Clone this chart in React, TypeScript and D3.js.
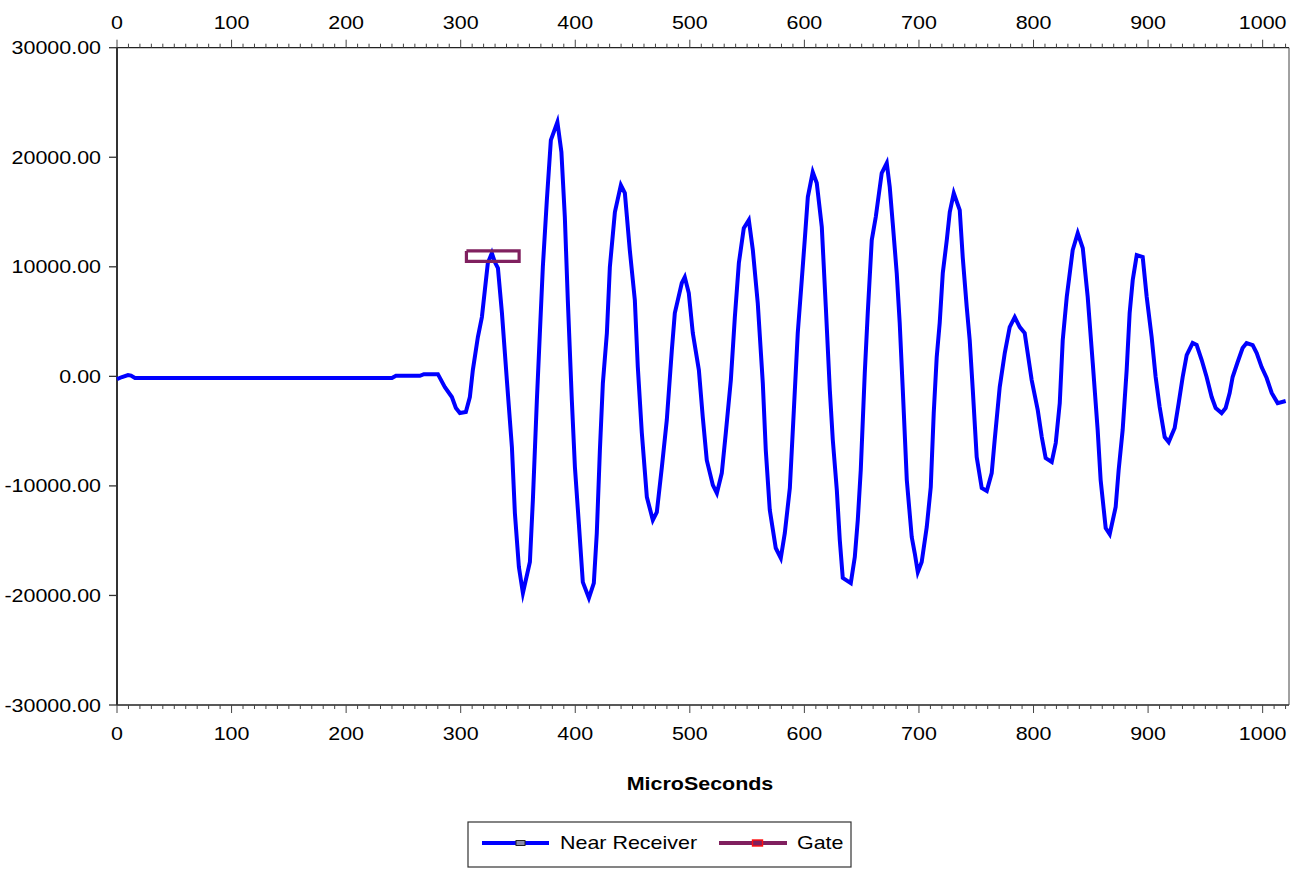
import * as d3 from "d3";

// time axis (microseconds) and the Near Receiver trace
const microSeconds = [
  0, 4.4, 9.6, 12.2, 15.7, 240.0, 243.5, 264.4, 267.9, 280.1,
  286.2, 292.3, 295.8, 299.3, 304.5, 308.0, 310.6, 315.0, 318.5, 321.1,
  323.7, 327.2, 329.8, 332.5, 336.0, 340.3, 344.7, 347.3, 350.8, 354.3,
  360.4, 363.0, 366.5, 369.1, 371.7, 375.2, 378.7, 384.4, 387.9, 390.9,
  393.5, 397.0, 399.7, 403.1, 406.6, 411.9, 416.2, 418.8, 421.5, 424.1,
  427.6, 430.2, 434.6, 439.8, 443.3, 447.6, 452.0, 454.6, 458.1, 462.5,
  467.7, 471.2, 475.6, 479.9, 484.3, 486.9, 493.0, 495.6, 499.1, 502.6,
  507.9, 511.3, 514.8, 520.1, 523.6, 527.9, 531.4, 535.8, 539.3, 542.8,
  547.1, 551.5, 555.0, 559.3, 563.7, 566.3, 569.8, 575.0, 579.4, 582.9,
  587.3, 590.8, 594.2, 597.7, 600.3, 603.0, 607.3, 610.8, 615.2, 618.7,
  622.2, 624.8, 628.3, 630.9, 633.5, 640.5, 644.0, 646.6, 649.2, 651.0,
  652.7, 655.3, 658.8, 662.3, 667.5, 671.9, 674.5, 677.1, 680.6, 683.2,
  685.9, 689.4, 693.7, 696.3, 699.0, 702.4, 706.8, 710.3, 712.9, 715.5,
  718.1, 720.8, 724.3, 726.9, 730.4, 735.6, 738.2, 741.7, 744.3, 747.0,
  750.4, 754.8, 759.2, 763.5, 766.1, 770.5, 774.9, 779.2, 783.6, 788.0,
  792.3, 794.9, 798.4, 803.7, 807.2, 810.6, 815.9, 819.4, 822.9, 825.5,
  829.0, 834.2, 838.6, 843.0, 847.3, 851.7, 856.0, 858.6, 863.0, 866.5,
  871.7, 874.3, 877.8, 881.3, 883.9, 886.6, 890.1, 895.3, 898.8, 903.1,
  906.6, 910.1, 914.5, 918.0, 923.2, 926.7, 930.2, 933.7, 938.9, 942.4,
  946.8, 951.1, 955.5, 959.0, 964.2, 967.7, 971.2, 973.8, 978.2, 982.5,
  986.0, 991.3, 994.8, 999.1, 1003.5, 1007.9, 1013.1, 1020.1,
];

const nearReceiver = [
  -250, -60, 120, 70, -150, -150, 50, 50, 200, 200,
  -980, -1890, -2890, -3350, -3260, -1890, 570, 3590, 5410, 7880,
  10340, 11250, 10430, 9880, 5780, -340, -6450, -12480, -17410, -19780,
  -16950, -11290, -2160, 3950, 9980, 16090, 21570, 23210, 20480, 14540,
  6960, -2160, -8280, -13390, -18780, -20240, -18870, -14310, -6730, -610,
  3950, 9980, 15000, 17460, 16730, 11530, 6960, 850, -5170, -11020,
  -13120, -12390, -8280, -3990, 2400, 5780, 8520, 9060, 7600, 3950,
  570, -3720, -7650, -9930, -10660, -8830, -5170, -340, 5410, 10340,
  13530, 14270, 11530, 6690, -610, -6730, -12210, -15670, -16590, -14310,
  -10200, -3080, 3950, 8790, 12440, 16370, 18650, 17650, 13630, 6330,
  -1250, -5810, -10370, -14940, -18400, -18870, -16500, -13120, -8560, -3990,
  300, 5780, 12440, 14540, 18560, 19470, 17280, 13990, 9430, 4870,
  -1250, -9470, -14670, -16130, -17870, -16950, -13760, -10110, -3350, 1760,
  4870, 9430, 12440, 15000, 16730, 15180, 10890, 6330, 3310, -1250,
  -7370, -10200, -10470, -8830, -5810, -980, 2130, 4500, 5410, 4500,
  3950, 2130, -340, -3080, -5540, -7460, -7820, -6090, -2440, 3310,
  7240, 11530, 13080, 11710, 7240, 1210, -4900, -9470, -13850, -14400,
  -11930, -8560, -4900, 570, 5780, 8790, 11070, 10890, 7240, 3590,
  -60, -2800, -5540, -6000, -4720, -2440, -60, 1940, 3040, 2860,
  1490, -60, -1890, -2890, -3350, -2890, -1520, -60, 1310, 2580,
  3040, 2860, 2130, 850, -150, -1520, -2440, -2250,
];

// gate window drawn as a closed box
const gateX = [305, 351, 351, 305, 305];
const gateY = [11450, 11450, 10500, 10500, 11450];

const xMajorTicks = [0, 100, 200, 300, 400, 500, 600, 700, 800, 900, 1000];
const xMinorTicks = d3.range(0, 1021, 10);
const yTicks = [-30000, -20000, -10000, 0, 10000, 20000, 30000];
const seriesNames = ["Near Receiver", "Gate"];

const FONT = "'Liberation Sans', Arial, sans-serif";
const SX = 1.16; // text in the source is drawn slightly stretched
const BLUE = "#0000ff";
const PURPLE = "#80205f";

// plain hyphen for negatives, like the source
const fmt = d3.formatLocale({
  decimal: ".",
  thousands: "",
  grouping: [3],
  currency: ["", ""],
  minus: "-",
}).format(".2f");

const Label = ({ x, y, anchor = "middle", bold = false, children }) => (
  <text
    transform={`translate(${x},${y}) scale(${SX},1)`}
    textAnchor={anchor}
    fontFamily={FONT}
    fontSize={18.5}
    fontWeight={bold ? "bold" : "normal"}
    fill="#000"
  >
    {children}
  </text>
);

export default function App() {
  const x = d3.scaleLinear().domain([0, 1023]).range([117, 1289]);
  const y = d3.scaleLinear().domain([-30000, 30000]).range([705, 47.7]);

  const line = d3
    .line<[number, number]>()
    .x((d) => x(d[0]))
    .y((d) => y(d[1]));

  const trace = microSeconds.map((t, i) => [t, nearReceiver[i]] as [number, number]);
  const gate = gateX.map((t, i) => [t, gateY[i]] as [number, number]);

  const [left, right] = x.range();
  const [bottom, top] = y.range();

  return (
    <svg
      width={1295}
      height={869}
      style={{ position: "absolute", left: 0, top: 0, background: "#fff" }}
    >
      <rect x={0} y={0} width={1295} height={869} fill="#fff" />

      {/* frame */}
      <line x1={left} x2={right} y1={top} y2={top} stroke="#222" strokeWidth={1.3} />
      <line x1={left} x2={right} y1={bottom} y2={bottom} stroke="#222" strokeWidth={1.3} />
      <line x1={right} x2={right} y1={top} y2={bottom} stroke="#444" strokeWidth={1} />
      <line x1={left} x2={left} y1={top} y2={bottom} stroke="#333" strokeWidth={2} />

      {/* top and bottom x axes */}
      {xMinorTicks.map((t) => {
        const major = t % 100 === 0;
        const len = major ? 8 : 4;
        return (
          <g key={"mt" + t}>
            <line x1={x(t)} x2={x(t)} y1={top} y2={top - len} stroke="#444" strokeWidth={1} />
            <line x1={x(t)} x2={x(t)} y1={bottom} y2={bottom + len} stroke="#444" strokeWidth={1} />
          </g>
        );
      })}
      {xMajorTicks.map((t) => (
        <g key={"xl" + t}>
          <Label x={x(t)} y={28.5}>{t}</Label>
          <Label x={x(t)} y={740}>{t}</Label>
        </g>
      ))}

      {/* left y axis */}
      {yTicks.map((v) => (
        <g key={"y" + v}>
          <line x1={left - 8} x2={left} y1={y(v)} y2={y(v)} stroke="#333" strokeWidth={1.3} />
          <Label x={101} y={y(v) + 6.5} anchor="end">{fmt(v)}</Label>
        </g>
      ))}

      {/* series */}
      <path
        d={line(trace)}
        fill="none"
        stroke={BLUE}
        strokeWidth={4}
        strokeLinejoin="miter"
        strokeMiterlimit={10}
      />
      <path d={line(gate)} fill="none" stroke={PURPLE} strokeWidth={3.2} />

      <Label x={700} y={790} bold>MicroSeconds</Label>

      {/* legend */}
      <rect x={468} y={822} width={383} height={45} fill="#fff" stroke="#333" strokeWidth={1.2} />
      <line x1={482} x2={549} y1={843} y2={843} stroke={BLUE} strokeWidth={4} />
      <rect x={516} y={840.5} width={9} height={5} fill="#8a8aa8" stroke="#222" strokeWidth={1} />
      <Label x={560} y={849} anchor="start">{seriesNames[0]}</Label>
      <line x1={719} x2={787} y1={843} y2={843} stroke={PURPLE} strokeWidth={4} />
      <rect x={752.5} y={840} width={10} height={6} fill={PURPLE} stroke="#ff1010" strokeWidth={1.4} />
      <Label x={797} y={849} anchor="start">{seriesNames[1]}</Label>
    </svg>
  );
}
